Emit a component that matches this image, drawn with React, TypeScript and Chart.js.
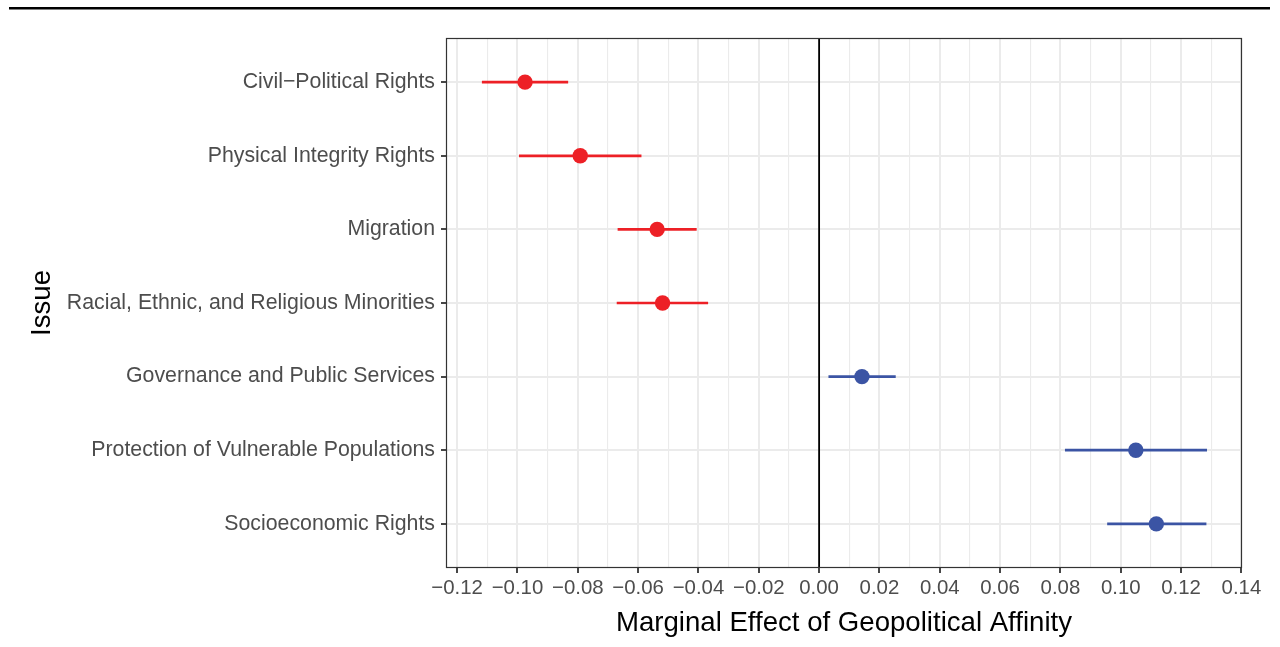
import React, { useEffect, useRef } from 'react';
import { Chart, registerables } from 'chart.js';

Chart.register(...registerables);

// ---- Data ----
const issues = [
  'Civil\u2212Political Rights',
  'Physical Integrity Rights',
  'Migration',
  'Racial, Ethnic, and Religious Minorities',
  'Governance and Public Services',
  'Protection of Vulnerable Populations',
  'Socioeconomic Rights',
];
const estimates = [-0.0975, -0.0792, -0.0537, -0.0519, 0.0142, 0.105, 0.1118];
const lower = [-0.1118, -0.0995, -0.0668, -0.0671, 0.0031, 0.0815, 0.0955];
const upper = [-0.0832, -0.0589, -0.0406, -0.0368, 0.0254, 0.1286, 0.1284];

const xMajorTicks = [-0.12, -0.1, -0.08, -0.06, -0.04, -0.02, 0, 0.02, 0.04, 0.06, 0.08, 0.1, 0.12, 0.14];
const xMinorTicks = [-0.11, -0.09, -0.07, -0.05, -0.03, -0.01, 0.01, 0.03, 0.05, 0.07, 0.09, 0.11, 0.13];

const xMin = -0.1237;
const xMax = 0.1402;
const yMin = -0.6;
const yMax = issues.length - 1 + 0.6;

const RED = '#ed2026';
const BLUE = '#3b54a4';
const FONT = '"Liberation Sans", Arial, Helvetica, sans-serif';

const isMajor = (v: number) => xMajorTicks.some((t) => Math.abs(t - v) < 1e-9);
const fmt = (v: number) => {
  const r = Math.round(v * 100) / 100;
  const s = Math.abs(r).toFixed(2);
  return r < 0 ? '\u2212' + s : s;
};

const framePlugin = {
  id: 'frame',
  beforeDraw(chart: any) {
    const ctx = chart.ctx;
    ctx.save();
    ctx.fillStyle = '#000000';
    ctx.fillRect(9, 7, 1261, 2.5);
    ctx.restore();
  },
  afterDraw(chart: any) {
    const { ctx, chartArea: a } = chart;
    ctx.save();
    ctx.strokeStyle = '#333333';
    ctx.lineWidth = 1.2;
    ctx.strokeRect(a.left + 0.5, a.top + 0.5, a.right - a.left - 1, a.bottom - a.top - 1);
    ctx.restore();
  },
};

export default function App() {
  const ref = useRef<HTMLCanvasElement | null>(null);

  useEffect(() => {
    if (!ref.current) return;
    const color = (v: number) => (v < 0 ? RED : BLUE);

    const errorSets = issues.map((_, i) => ({
      type: 'scatter' as const,
      data: [
        { x: lower[i], y: i },
        { x: upper[i], y: i },
      ],
      showLine: true,
      borderColor: color(estimates[i]),
      borderWidth: 2.7,
      pointRadius: 0,
      order: 2,
    }));

    const chart = new Chart(ref.current, {
      type: 'scatter',
      data: {
        datasets: [
          {
            data: [
              { x: 0, y: yMin },
              { x: 0, y: yMax },
            ],
            showLine: true,
            borderColor: '#000000',
            borderWidth: 1.8,
            pointRadius: 0,
            order: 3,
          },
          ...errorSets,
          {
            data: issues.map((_, i) => ({ x: estimates[i], y: i })),
            pointRadius: 7.7,
            pointBackgroundColor: estimates.map(color),
            pointBorderWidth: 0,
            borderWidth: 0,
            order: 1,
          },
        ],
      },
      options: {
        responsive: false,
        animation: false,
        events: [],
        layout: { padding: { top: 38, right: 38, left: 0, bottom: 0 } },
        plugins: { legend: { display: false }, tooltip: { enabled: false } },
        scales: {
          x: {
            type: 'linear',
            min: xMin,
            max: xMax,
            afterBuildTicks: (scale: any) => {
              const vals = [...xMajorTicks, ...xMinorTicks].sort((a, b) => a - b);
              scale.ticks = vals.map((v) => ({ value: v }));
            },
            afterFit: (scale: any) => {
              scale.height = 79;
            },
            ticks: {
              autoSkip: false,
              maxRotation: 0,
              minRotation: 0,
              padding: 3,
              color: '#4d4d4d',
              font: { family: FONT, size: 20.4 },
              callback: (v: any) => (isMajor(Number(v)) ? fmt(Number(v)) : ''),
            },
            grid: {
              color: '#ebebeb',
              lineWidth: (c: any) => (c.tick && isMajor(c.tick.value) ? 2 : 1.1),
              tickColor: (c: any) => (c.tick && isMajor(c.tick.value) ? '#333333' : 'rgba(0,0,0,0)'),
              tickWidth: 1.8,
              tickLength: 5,
              drawTicks: true,
            },
            border: { display: false },
            title: {
              display: true,
              text: 'Marginal Effect of Geopolitical Affinity',
              color: '#000000',
              font: { family: FONT, size: 27.6 },
              padding: { top: 0, bottom: 7 },
            },
          },
          y: {
            type: 'linear',
            min: yMin,
            max: yMax,
            reverse: true,
            afterBuildTicks: (scale: any) => {
              scale.ticks = issues.map((_, i) => ({ value: i }));
            },
            afterFit: (scale: any) => {
              scale.width = 446;
            },
            ticks: {
              autoSkip: false,
              padding: 6,
              color: '#4d4d4d',
              font: { family: FONT, size: 21.3 },
              callback: (v: any) => issues[Math.round(Number(v))] ?? '',
            },
            grid: {
              color: '#ebebeb',
              lineWidth: 2,
              tickColor: '#333333',
              tickWidth: 1.8,
              tickLength: 5,
              drawTicks: true,
            },
            border: { display: false },
            title: {
              display: true,
              text: 'Issue',
              color: '#000000',
              font: { family: FONT, size: 27.6 },
              padding: { top: 26, bottom: 0 },
            },
          },
        },
      },
      plugins: [framePlugin],
    } as any);

    return () => chart.destroy();
  }, []);

  return (
    <div style={{ position: 'absolute', left: 0, top: 0, width: 1280, height: 647, background: '#ffffff' }}>
      <canvas ref={ref} width={1280} height={647} style={{ display: 'block', width: 1280, height: 647 }} />
    </div>
  );
}
